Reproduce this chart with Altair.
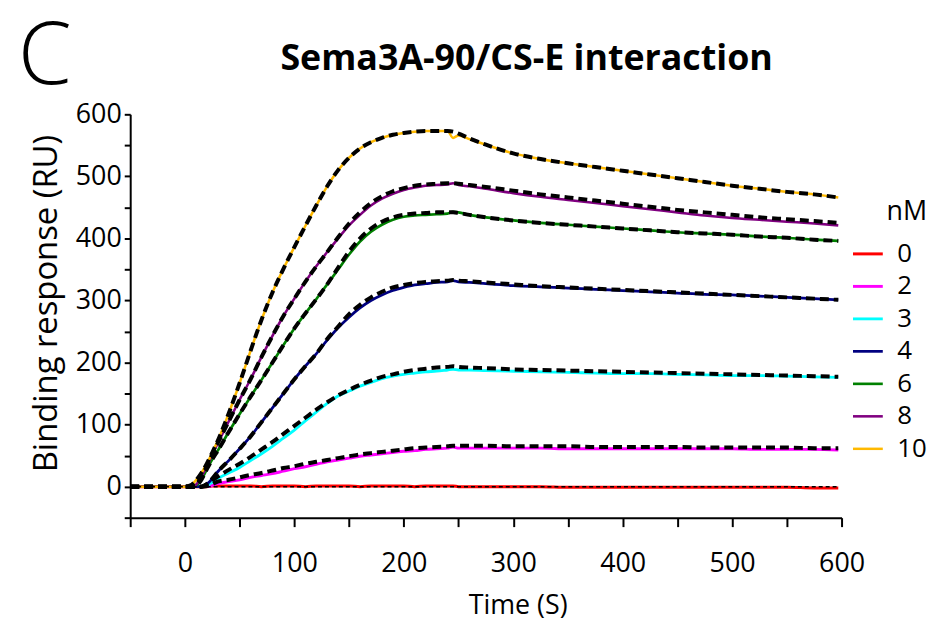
import altair as alt
import pandas as pd

# ---- time grid (s) shared by all sensorgrams ----
T = [-50, -25, 0, 5, 10, 15, 20, 25, 30, 40, 50, 60, 70, 80, 90, 100, 110, 120,
     130, 140, 150, 160, 170, 180, 190, 200, 210, 220, 230, 240, 245, 250, 260,
     275, 300, 325, 350, 375, 400, 425, 450, 475, 500, 525, 550, 575, 597]

CONCS = ["0", "2", "3", "4", "6", "8", "10"]
COLORS = ["#FF0000", "#FF00FF", "#00FFFF", "#000080", "#008000", "#800080", "#FFB900"]
LINE_W = [3, 2.5, 2.5, 1.8, 1.8, 1.8, 3.5]

TITLE = "Sema3A-90/CS-E interaction"
PANEL = "C"

# ---- measured responses (RU) ----
R0 = [0, 0, 0, 0, 0, 0, 0, 1, 1,
      1, 1, 1, 0, 1, 1, 1, 0, 1, 1, 1, 1, 0, 1, 1, 1, 1, 0, 1, 1, 1,
      1, 0, 0, 0,
      0, 0, -1, -1, -1, -1, -1, -1, -1, -1, -1, -2,
      -2]
R2 = [0, 0, 0, 0, 0, 0, 0, 2, 5,
      8, 11, 15, 18, 21, 25, 29, 32, 36, 40, 43, 46, 49, 51, 53, 55, 57, 58, 60, 61, 62,
      64, 62, 62, 62,
      62, 62, 61, 61, 61, 61, 61, 61, 61, 60, 60, 60,
      59]
R3 = [0, 0, 0, 0, 0, 0, 2, 7, 13,
      22, 31, 42, 53, 65, 78, 91, 106, 120, 134, 146, 154, 162, 168, 174, 178, 181, 183, 185, 186, 188,
      189, 188, 188, 187,
      186, 185, 184, 183, 182, 182, 181, 180, 179, 179, 178, 177,
      176]
R4 = [0, 0, 0, 0, 0, 0, 4, 13, 24,
      42, 61, 81, 104, 127, 150, 173, 194, 214, 236, 256, 273, 288, 300, 309, 316, 321, 325, 327, 329, 330,
      332, 330, 329, 327,
      324, 322, 320, 318, 316, 314, 312, 310, 309, 307, 305, 303,
      301]
R6 = [0, 0, 0, 0, 2, 11, 28, 44, 58,
      88, 117, 145, 172, 200, 228, 255, 279, 302, 326, 350, 374, 395, 411, 422, 430, 435, 437, 438, 439, 440,
      443, 442, 438, 434,
      429, 425, 422, 419, 416, 413, 410, 408, 406, 403, 401, 398,
      396]
R8 = [0, 0, 0, 0, 3, 16, 33, 52, 70,
      105, 140, 173, 209, 243, 275, 303, 330, 355, 378, 400, 421, 438, 453, 464, 472, 478, 482, 485, 486, 487,
      489, 486, 484, 480,
      473, 467, 462, 457, 452, 447, 442, 437, 433, 430, 427, 424,
      421]
R10 = [0, 0, 0, 2, 10, 22, 37, 55, 74,
       118, 167, 219, 269, 313, 351, 386, 420, 453, 484, 510, 530, 545, 555, 562, 567, 570, 572, 573, 573, 573,
       562, 566, 560, 551,
       537, 528, 521, 515, 509, 503, 497, 491, 485, 480, 475, 471,
       466]

# ---- fitted curves (RU) ----
F0 = [0, 0, 0, 0, 0, 0, 0, 0, 0,
      0, 0, 0, 0, 0, 0, 0, 0, 0, 0, 0, 0, 0, 0, 0, 0, 0, 0, 0, 0, 0,
      0, 0, 0, 0,
      0, 0, 0, 0, 0, 0, 0, 0, 0, 0, 0, 0,
      0]
F2 = [0, 0, 0, 0, 0, 0, 1, 4, 8,
      11, 15, 19, 22, 26, 30, 33, 37, 40, 43, 46, 49, 52, 54, 56, 58, 60, 62, 63, 64, 65,
      66, 66, 66, 66,
      65, 65, 65, 64, 64, 64, 64, 63, 63, 63, 63, 62,
      62]
F3 = [0, 0, 0, 0, 0, 0, 4, 10, 16,
      27, 37, 48, 60, 72, 85, 98, 111, 124, 136, 147, 156, 164, 171, 177, 181, 185, 188, 190, 192, 193,
      194, 193, 192, 191,
      189, 188, 187, 186, 185, 184, 183, 182, 181, 180, 179, 178,
      177]
F4 = [0, 0, 0, 0, 0, 0, 4, 13, 24,
      42, 61, 81, 104, 127, 150, 173, 194, 214, 238, 258, 278, 293, 305, 314, 321, 325, 328, 330, 331, 332,
      333, 332, 331, 329,
      326, 323, 321, 319, 317, 315, 313, 311, 309, 307, 305, 303,
      301]
F6 = [0, 0, 0, 0, 2, 11, 28, 44, 58,
      88, 117, 145, 172, 200, 228, 255, 279, 302, 326, 353, 379, 400, 416, 427, 434, 438, 440, 441, 442, 442,
      442, 441, 438, 434,
      429, 425, 422, 419, 416, 413, 410, 408, 406, 403, 401, 398,
      396]
F8 = [0, 0, 0, 0, 3, 16, 33, 52, 70,
      105, 140, 173, 209, 243, 275, 303, 330, 355, 378, 402, 424, 442, 457, 468, 476, 481, 485, 487, 488, 489,
      489, 488, 486, 483,
      477, 471, 466, 461, 456, 451, 446, 442, 438, 434, 431, 428,
      425]
F10 = [0, 0, 0, 2, 10, 22, 37, 55, 74,
       118, 167, 219, 269, 313, 351, 386, 420, 453, 484, 510, 530, 545, 555, 562, 567, 570, 572, 573, 573, 573,
       572, 569, 561, 551,
       537, 528, 521, 515, 509, 503, 497, 491, 485, 480, 475, 471,
       466]

MEASURED = [R0, R2, R3, R4, R6, R8, R10]
FITS = [F0, F2, F3, F4, F6, F8, F10]

X_TICKS = list(range(-50, 601, 25))
Y_LABELLED = [0, 100, 200, 300, 400, 500, 600]
Y_MINOR = [-50, 50, 150, 250, 350, 450, 550]

rows_m, rows_f = [], []
for c, vals in zip(CONCS, MEASURED):
    for t, v in zip(T, vals):
        rows_m.append({"time": t, "resp": v, "conc": c})
for c, vals in zip(CONCS, FITS):
    for t, v in zip(T, vals):
        rows_f.append({"time": t, "resp": v, "series": c})
df_m = pd.DataFrame(rows_m)
df_f = pd.DataFrame(rows_f)

FONT = "Open Sans"
YSCALE = alt.Scale(domain=[-50, 600], nice=False, zero=False)

x_enc = alt.X(
    "time:Q",
    scale=alt.Scale(domain=[-50, 600], nice=False, zero=False),
    axis=alt.Axis(
        values=X_TICKS,
        labelExpr="datum.value % 100 === 0 ? datum.label : ''",
        tickSize={"condition": {"test": "datum.value % 50 === 0", "value": 9}, "value": 5},
        labelPadding=24, labelFontSize=27, labelFont=FONT, labelColor="black",
        title="Time (S)", titleFont=FONT, titleFontSize=27, titleFontWeight="normal",
        titleColor="black", titleX=390, titleY=96, titleAlign="center",
        titleBaseline="alphabetic",
        grid=False, domainColor="black", domainWidth=2, tickColor="black", tickWidth=2,
        labelFlush=False, labelOverlap=False,
    ),
)
y_main = alt.Y(
    "resp:Q",
    scale=YSCALE,
    axis=alt.Axis(
        orient="left",
        values=Y_LABELLED,
        format="d",
        tickSize=6,
        labelPadding=3, labelFontSize=27, labelFont=FONT, labelColor="black",
        title="Binding response (RU)", titleFont=FONT, titleFontSize=33,
        titleFontWeight="normal", titleColor="black",
        titleX=-74, titleY=190, titleAngle=270, titleAlign="center",
        titleBaseline="alphabetic",
        grid=False, domainColor="black", domainWidth=2, tickColor="black", tickWidth=2,
    ),
)
y_minor = alt.Y(
    "resp:Q",
    scale=YSCALE,
    axis=alt.Axis(
        orient="left", values=Y_MINOR, labels=False, title=None, tickSize=6,
        grid=False, domain=False, tickColor="black", tickWidth=2,
    ),
)

measured = alt.Chart(df_m).mark_line(interpolate="monotone").encode(
    x=x_enc,
    y=y_main,
    color=alt.Color(
        "conc:N",
        scale=alt.Scale(domain=CONCS, range=COLORS),
        legend=alt.Legend(
            title="nM", orient="none", legendX=726, legendY=85, direction="vertical",
            symbolType="stroke", symbolSize=900, symbolStrokeWidth=4,
            labelFontSize=26, labelFont=FONT, labelColor="black", labelOffset=13,
            titleFontSize=27, titleFont=FONT, titleFontWeight="normal", titleColor="black",
            titleAnchor="end", titlePadding=12, rowPadding=2.7, padding=0,
        ),
    ),
    strokeWidth=alt.StrokeWidth("conc:N", scale=alt.Scale(domain=CONCS, range=LINE_W), legend=None),
    order=alt.Order("time:Q"),
)

fits = alt.Chart(df_f).mark_line(interpolate="monotone", color="black").encode(
    x="time:Q",
    y=y_minor,
    detail="series:N",
    strokeDash=alt.condition(alt.datum.series == "0", alt.value([4, 3]), alt.value([9, 5])),
    strokeWidth=alt.condition(alt.datum.series == "0", alt.value(1.5), alt.value(4)),
    order=alt.Order("time:Q"),
)

panel = alt.Chart(pd.DataFrame({"label": [PANEL]})).mark_text(
    font=FONT, fontSize=87, fontWeight=300, align="center", baseline="alphabetic", color="black"
).encode(x=alt.value(-86), y=alt.value(-31), text="label:N")

title = alt.Chart(pd.DataFrame({"label": [TITLE]})).mark_text(
    font=FONT, fontSize=36, fontWeight="bold", align="center", baseline="alphabetic", color="black"
).encode(x=alt.value(399), y=alt.value(-45), text="label:N")

chart = alt.layer(measured, fits, panel, title).resolve_axis(y="independent").properties(
    width=716,
    height=406,
    autosize=alt.AutoSizeParams(type="none"),
    padding={"left": 123, "top": 105, "right": 86, "bottom": 102},
).configure_view(strokeWidth=0)

chart.save("out.html", embed_options={"renderer": "svg", "actions": False})
